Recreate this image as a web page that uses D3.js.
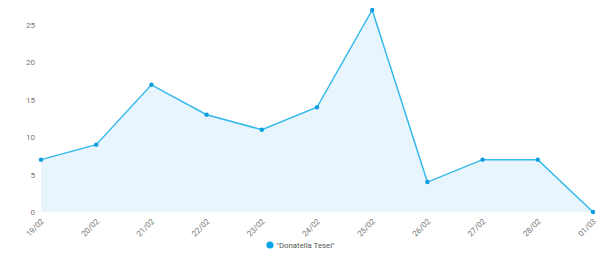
<!DOCTYPE html>
<html>
<head>
<meta charset="utf-8">
<script src="https://cdn.jsdelivr.net/npm/d3@7"></script>
<style>
  body { margin: 0; background: #fff; }
  text { font-family: Roboto, "Noto Sans", sans-serif; }
</style>
</head>
<body>
<div id="chart"></div>
<script>
// data
const days = ["19/02", "20/02", "21/02", "22/02", "23/02", "24/02", "25/02", "26/02", "27/02", "28/02", "01/03"];
const counts = [7, 9, 17, 13, 11, 14, 27, 4, 7, 7, 0];
const yTicks = [0, 5, 10, 15, 20, 25];
const seriesName = "\"Donatella Tesei\"";

const W = 612, H = 256;
const margin = { top: 10, right: 19, bottom: 44, left: 41 },
  width = W - margin.left - margin.right,
  height = H - margin.top - margin.bottom;

const svg = d3.select("#chart")
  .append("svg")
  .attr("width", W)
  .attr("height", H);

const g = svg.append("g")
  .attr("transform", `translate(${margin.left},${margin.top})`);

const x = d3.scalePoint()
  .domain(days)
  .range([0, width]);

const y = d3.scaleLinear()
  .domain([0, 27])
  .range([height, 0]);

// area + line
const area = d3.area()
  .x((d, i) => x(days[i]))
  .y0(height)
  .y1((d) => y(d));

const line = d3.line()
  .x((d, i) => x(days[i]))
  .y((d) => y(d));

g.append("path")
  .datum(counts)
  .attr("d", area)
  .attr("fill", "#e8f5fd");

g.append("path")
  .datum(counts)
  .attr("d", line)
  .attr("fill", "none")
  .attr("stroke", "#33b9ec")
  .attr("stroke-width", 1.5);

g.selectAll(".dot")
  .data(counts)
  .enter()
  .append("circle")
  .attr("class", "dot")
  .attr("cx", (d, i) => x(days[i]))
  .attr("cy", (d) => y(d))
  .attr("r", 2.2)
  .attr("fill", "#0a9ee0");

// y axis
const yAxis = g.append("g")
  .call(d3.axisLeft(y).tickValues(yTicks).tickSize(0).tickPadding(6));
yAxis.select(".domain").remove();
yAxis.selectAll("text")
  .attr("fill", "#777")
  .style("font-size", "8px");

// x axis, labels turned 45 degrees
const xAxis = g.append("g")
  .attr("transform", `translate(0,${height})`)
  .call(d3.axisBottom(x).tickSize(0).tickPadding(0));
xAxis.select(".domain").remove();
xAxis.selectAll("text")
  .attr("fill", "#777")
  .style("font-size", "8px")
  .attr("text-anchor", "end")
  .attr("dy", "0")
  .attr("transform", "translate(3,10) rotate(-45)");

// legend
const legend = svg.append("g")
  .attr("transform", `translate(270,245)`);
legend.append("circle")
  .attr("r", 3.6)
  .attr("fill", "#0aa3e6");
legend.append("text")
  .attr("x", 6.5)
  .attr("dy", "0.35em")
  .attr("fill", "#555")
  .style("font-size", "7.8px")
  .text(seriesName);
</script>
</body>
</html>
